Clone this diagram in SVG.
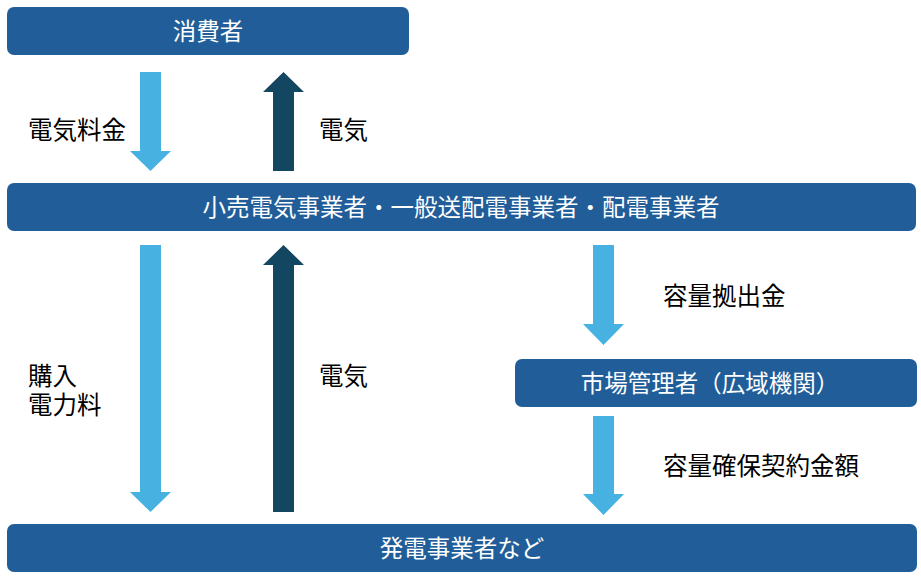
<svg xmlns="http://www.w3.org/2000/svg" width="921" height="578" viewBox="0 0 921 578">
<style>
.box{fill:#215E99}
.bt{fill:#FFFFFF;font-family:"Noto Sans CJK JP","Noto Sans CJK SC",sans-serif;font-size:23.5px;text-anchor:middle}
.lt{fill:#000000;font-family:"Noto Sans CJK JP","Noto Sans CJK SC",sans-serif;font-size:24.5px}
.money{fill:#47B1E1}
.power{fill:#134660}
</style>
<rect width="921" height="578" fill="#FFFFFF"/>
<g id="consumer">
<rect class="box" x="7" y="7" width="402" height="48" rx="7"/>
<text class="bt" x="208" y="40" font-size="24">消費者</text>
</g>
<g id="retailer">
<rect class="box" x="7" y="183" width="909" height="48" rx="7"/>
<text class="bt" x="461" y="216">小売電気事業者・一般送配電事業者・配電事業者</text>
</g>
<g id="market">
<rect class="box" x="515" y="359" width="402" height="48" rx="7"/>
<text class="bt" x="710" y="392">市場管理者（広域機関）</text>
</g>
<g id="generator">
<rect class="box" x="7" y="524" width="910" height="48" rx="7"/>
<text class="bt" x="462" y="557">発電事業者など</text>
</g>
<g id="connectors">
<polygon class="money" points="140,72 161,72 161,151 171,151 150.5,171 130,151 140,151"/>
<polygon class="power" points="273,171 294,171 294,92 304,92 283.5,72 263,92 273,92"/>
<polygon class="money" points="140,245 161,245 161,492 171,492 150.5,512 130,492 140,492"/>
<polygon class="power" points="273,512 294,512 294,265 304,265 283.5,245 263,265 273,265"/>
<polygon class="money" points="593,245 614,245 614,324 624,324 603.5,345 583,324 593,324"/>
<polygon class="money" points="593,416 614,416 614,494 624,494 603.5,515 583,494 593,494"/>
</g>
<g id="labels">
<text class="lt" x="28" y="139">電気料金</text>
<text class="lt" x="319" y="139">電気</text>
<text class="lt" x="28" y="385"><tspan x="28" y="385">購入</tspan><tspan x="28" y="414">電力料</tspan></text>
<text class="lt" x="319" y="385">電気</text>
<text class="lt" x="663" y="305">容量拠出金</text>
<text class="lt" x="663" y="475">容量確保契約金額</text>
</g>
</svg>
